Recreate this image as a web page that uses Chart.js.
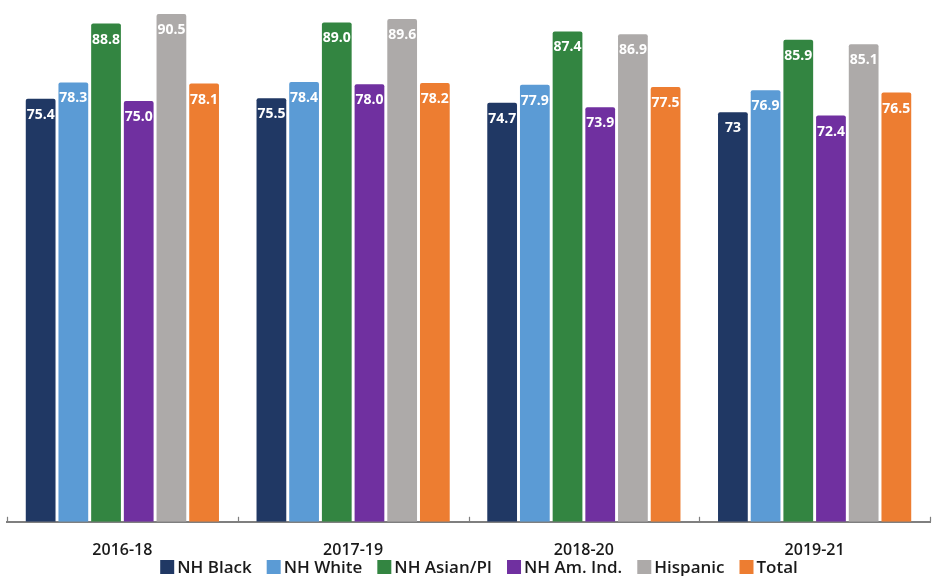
<!DOCTYPE html>
<html>
<head>
<meta charset="utf-8">
<script src="https://cdn.jsdelivr.net/npm/chart.js@4/dist/chart.umd.min.js"></script>
<style>
  html, body { margin: 0; padding: 0; background: #ffffff; }
  #wrap { width: 936px; height: 576px; position: relative; }
</style>
</head>
<body>
<div id="wrap"><canvas id="chart"></canvas></div>
<script>
// Three-year periods
const periods = ['2016-18', '2017-19', '2018-20', '2019-21'];

// Group values, written as published (text kept for the bar labels)
const nhBlack    = ['75.4', '75.5', '74.7', '73'];
const nhWhite    = ['78.3', '78.4', '77.9', '76.9'];
const nhAsianPI  = ['88.8', '89.0', '87.4', '85.9'];
const nhAmInd    = ['75.0', '78.0', '73.9', '72.4'];
const hispanic   = ['90.5', '89.6', '86.9', '85.1'];
const total      = ['78.1', '78.2', '77.5', '76.5'];

const seriesNames = ['NH Black', 'NH White', 'NH Asian/PI', 'NH Am. Ind.', 'Hispanic', 'Total'];
const seriesText = [nhBlack, nhWhite, nhAsianPI, nhAmInd, hispanic, total];
const seriesColors = ['#203864', '#5b9bd5', '#338541', '#7030a0', '#adaaa9', '#ed7d31'];

const FONT = '"Open Sans", "DejaVu Sans", sans-serif';

// White value labels at the top inside each bar
const barLabels = {
  id: 'barLabels',
  afterDatasetsDraw(chart) {
    const ctx = chart.ctx;
    ctx.save();
    ctx.fillStyle = '#ffffff';
    ctx.font = '700 14px ' + FONT;
    ctx.textAlign = 'center';
    ctx.textBaseline = 'middle';
    chart.data.datasets.forEach((ds, di) => {
      const meta = chart.getDatasetMeta(di);
      meta.data.forEach((bar, i) => {
        ctx.fillText(seriesText[di][i], bar.x, bar.y + 16);
      });
    });
    ctx.restore();
  }
};

// Short upward ticks on the category axis at each period boundary
const boundaryTicks = {
  id: 'boundaryTicks',
  afterDraw(chart) {
    const x = chart.scales.x;
    const ctx = chart.ctx;
    const y0 = x.top;
    ctx.save();
    ctx.strokeStyle = '#7f7f7f';
    ctx.lineWidth = 1.2;
    for (let i = 0; i <= periods.length; i++) {
      const px = Math.round(x.getPixelForValue(i - 0.5)) + 0.5;
      ctx.beginPath();
      ctx.moveTo(px, y0);
      ctx.lineTo(px, y0 - 5);
      ctx.stroke();
    }
    ctx.restore();
  }
};

// Single-row legend under the axis labels
const bottomLegend = {
  id: 'bottomLegend',
  afterDraw(chart) {
    const ctx = chart.ctx;
    ctx.save();
    ctx.font = '600 17px ' + FONT;
    ctx.textBaseline = 'middle';
    const box = 14, gapText = 3, gapItem = 15;
    const widths = seriesNames.map(n => ctx.measureText(n).width);
    const totalW = widths.reduce((a, w) => a + box + gapText + w, 0) + gapItem * (seriesNames.length - 1);
    let x = 479 - totalW / 2;
    const cy = 567;
    seriesNames.forEach((n, i) => {
      ctx.fillStyle = seriesColors[i];
      ctx.fillRect(x, cy - box / 2, box, box);
      ctx.fillStyle = '#1a1a1a';
      ctx.fillText(n, x + box + gapText, cy + 1);
      x += box + gapText + widths[i] + gapItem;
    });
    ctx.restore();
  }
};

new Chart(document.getElementById('chart'), {
  type: 'bar',
  data: {
    labels: periods,
    datasets: seriesNames.map((name, i) => ({
      label: name,
      data: seriesText[i].map(Number),
      backgroundColor: seriesColors[i],
      borderRadius: { topLeft: 2, topRight: 2 },
      borderSkipped: 'bottom'
    }))
  },
  options: {
    responsive: true,
    maintainAspectRatio: false,
    animation: false,
    layout: { padding: { left: 7, right: 6, top: 0, bottom: 5 } },
    datasets: {
      bar: { categoryPercentage: 0.85, barPercentage: 0.91 }
    },
    scales: {
      x: {
        offset: true,
        grid: { display: false },
        border: { display: true, color: '#7f7f7f', width: 2 },
        ticks: {
          color: '#1a1a1a',
          font: { family: FONT, size: 16, weight: '600' },
          padding: 11
        }
      },
      y: {
        display: false,
        min: 0,
        max: 93
      }
    },
    plugins: {
      legend: { display: false },
      tooltip: { enabled: false }
    }
  },
  plugins: [barLabels, boundaryTicks, bottomLegend]
});
</script>
</body>
</html>
